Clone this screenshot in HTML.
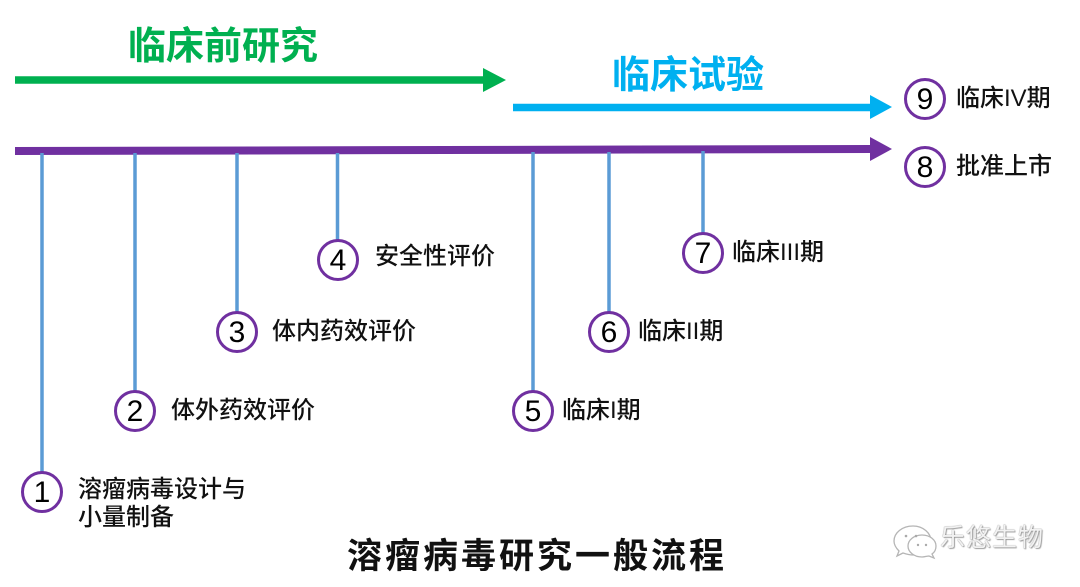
<!DOCTYPE html>
<html>
<head>
<meta charset="utf-8">
<style>
  html, body { margin: 0; padding: 0; background: #fff; }
  body { width: 1080px; height: 587px; position: relative; overflow: hidden;
         font-family: "Liberation Sans", "Noto Sans CJK SC", sans-serif; }
  .abs { position: absolute; white-space: nowrap; }
  .phase { font-size: 38px; font-weight: bold; line-height: 38px; height: 38px; }
  .circ { position: absolute; width: 36px; height: 36px; border: 3px solid #7030A0; border-radius: 50%;
          background: #fff; font-size: 30px; line-height: 37px; text-align: center; color: #000;
          font-family: "Liberation Sans", sans-serif; }
  .lbl { position: absolute; font-size: 24px; line-height: 28px; color: #111; font-weight: 500; white-space: nowrap; }
  .title { font-size: 35px; font-weight: bold; letter-spacing: 3px; line-height: 36px; color: #111; }
  .wm { font-size: 25px; line-height: 26px; color: #f2f2f2; letter-spacing: 1px;
        text-shadow: 0 0 1px #666, 1px 1px 1px #aaa; }
</style>
</head>
<body>
<svg class="abs" style="left:0;top:0" width="1080" height="587" viewBox="0 0 1080 587">
  <line x1="15" y1="80" x2="485" y2="80" stroke="#00B050" stroke-width="7.5"/>
  <polygon points="483,68 506,80 483,92" fill="#00B050"/>
  <line x1="513" y1="107.5" x2="871" y2="107.5" stroke="#00B0F0" stroke-width="7.5"/>
  <polygon points="870,95 892,107 870,119" fill="#00B0F0"/>
  <line x1="15" y1="151" x2="871" y2="149" stroke="#7030A0" stroke-width="8"/>
  <polygon points="870,137 892,149 870,161" fill="#7030A0"/>
  <g stroke="#5B9BD5" stroke-width="3.5">
    <line x1="42" y1="153" x2="42" y2="472"/>
    <line x1="135" y1="153" x2="135" y2="391"/>
    <line x1="237" y1="153" x2="237" y2="312"/>
    <line x1="337.5" y1="153" x2="337.5" y2="240"/>
    <line x1="533" y1="152" x2="533" y2="391"/>
    <line x1="609" y1="152" x2="609" y2="312"/>
    <line x1="703" y1="151" x2="703" y2="233"/>
  </g>
  <g fill="#fff" stroke="#b5b5b5" stroke-width="1.3">
    <path d="M913,526 C902,526 894,533 894,541 C894,545 896,548 899,551 L897,556 L903,553 C906,554 909,555 913,555 C923,555 931,548 931,541 C931,533 923,526 913,526 Z"/>
    <path d="M922,535 C914,535 908,540 908,546 C908,552 914,557 922,557 C925,557 927,556 929,556 L934,558 L932,554 C935,552 936,549 936,546 C936,540 930,535 922,535 Z"/>
  </g>
  <g fill="#aaa">
    <circle cx="906" cy="536" r="1.3"/><circle cx="916" cy="536" r="1.3"/>
    <circle cx="918" cy="545" r="1.2"/><circle cx="926" cy="545" r="1.2"/>
  </g>
</svg>

<div class="abs phase" style="left:128px;top:28px;color:#00B050;">临床前研究</div>
<div class="abs phase" style="left:612px;top:57px;color:#00B0F0;">临床试验</div>

<div class="circ" style="left:21px;top:471px;">1</div>
<div class="circ" style="left:114px;top:390px;">2</div>
<div class="circ" style="left:216px;top:311px;">3</div>
<div class="circ" style="left:317px;top:239px;">4</div>
<div class="circ" style="left:512px;top:390px;">5</div>
<div class="circ" style="left:588px;top:311px;">6</div>
<div class="circ" style="left:682px;top:232px;">7</div>
<div class="circ" style="left:904px;top:146px;">8</div>
<div class="circ" style="left:904px;top:78px;">9</div>

<div class="lbl" style="left:78px;top:476px;">溶瘤病毒设计与<br>小量制备</div>
<div class="lbl" style="left:171px;top:397px;">体外药效评价</div>
<div class="lbl" style="left:272px;top:318px;">体内药效评价</div>
<div class="lbl" style="left:375px;top:243px;">安全性评价</div>
<div class="lbl" style="left:562px;top:397px;">临床I期</div>
<div class="lbl" style="left:638px;top:318px;">临床II期</div>
<div class="lbl" style="left:732px;top:239px;">临床III期</div>
<div class="lbl" style="left:956px;top:153px;">批准上市</div>
<div class="lbl" style="left:956px;top:85px;">临床IV期</div>

<div class="abs title" style="left:347px;top:539px;">溶瘤病毒研究一般流程</div>
<div class="abs wm" style="left:940px;top:525px;">乐悠生物</div>
</body>
</html>
